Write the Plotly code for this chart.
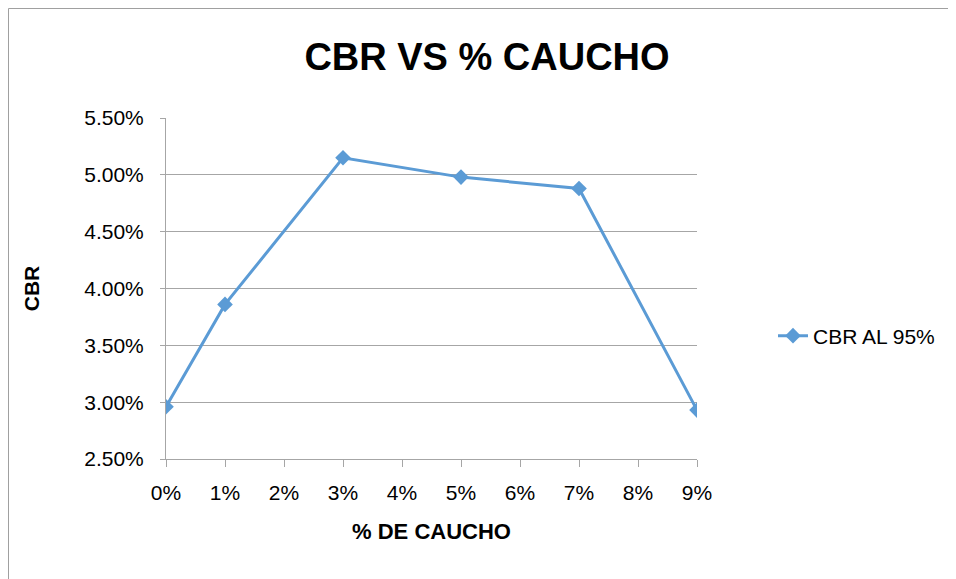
import plotly.graph_objects as go

# data
caucho = [0.00, 0.01, 0.03, 0.05, 0.07, 0.09]
cbr_95 = [0.0296, 0.0386, 0.0515, 0.0498, 0.0488, 0.0293]
series_name = 'CBR AL 95%'

BLUE = '#5B9BD5'
GRID = '#A6A6A6'
FONT = 'Liberation Sans'

# plot area in page pixels; the page body adds an 8px offset
OFF = 8
L, R, T, B = 166, 697, 118, 459
W, H = 956, 579


def px_x(p):
    return (p - L) / (R - L)


def px_y(p):
    return (B - p) / (B - T)


line = go.Scatter(x=caucho, y=cbr_95, mode='lines+markers', name=series_name,
                  line=dict(color=BLUE, width=3),
                  marker=dict(symbol='diamond', size=12, color=BLUE))

fig = go.Figure(data=[line])

# outer chart border: only top and left edges are visible in the window
border = dict(color='#A0A0A0', width=1)
fig.update_layout(
    width=W, height=H,
    margin=dict(l=L - OFF, r=W - R + OFF, t=T - OFF, b=H - B + OFF),
    paper_bgcolor='white', plot_bgcolor='white',
    font=dict(family=FONT, size=21, color='black'),
    title=dict(text='<b>CBR VS % CAUCHO</b>', x=px_x(487), xref='paper',
               y=1 - (57 - OFF) / H, yanchor='middle', xanchor='center',
               font=dict(size=38, family=FONT)),
    showlegend=True,
    legend=dict(x=px_x(773), y=px_y(336), xanchor='left', yanchor='middle',
                font=dict(size=21), bgcolor='rgba(0,0,0,0)'),
    shapes=[
        dict(type='line', xref='paper', yref='paper', x0=px_x(8.5), x1=px_x(990),
             y0=px_y(8.5), y1=px_y(8.5), line=border, layer='below'),
        dict(type='line', xref='paper', yref='paper', x0=px_x(8.5), x1=px_x(8.5),
             y0=px_y(8.5), y1=px_y(620), line=border, layer='below'),
    ],
)

fig.update_xaxes(range=[0, 0.09], dtick=0.01, tickformat='.0%',
                 showgrid=False, zeroline=False,
                 showline=True, linecolor=GRID, linewidth=1,
                 ticks='outside', ticklen=7, tickcolor=GRID,
                 ticklabelstandoff=8,
                 title=dict(text='<b>% DE CAUCHO</b>', font=dict(size=22), standoff=20))
fig.update_yaxes(range=[0.025, 0.055], dtick=0.005, tickformat='.2%',
                 showgrid=True, gridcolor=GRID, gridwidth=1, zeroline=False,
                 showline=True, linecolor=GRID, linewidth=1,
                 ticks='outside', ticklen=5, tickcolor=GRID,
                 ticklabelstandoff=12,
                 title=dict(text='<b>CBR</b>', font=dict(size=21), standoff=38))

fig.write_html('out.html')
